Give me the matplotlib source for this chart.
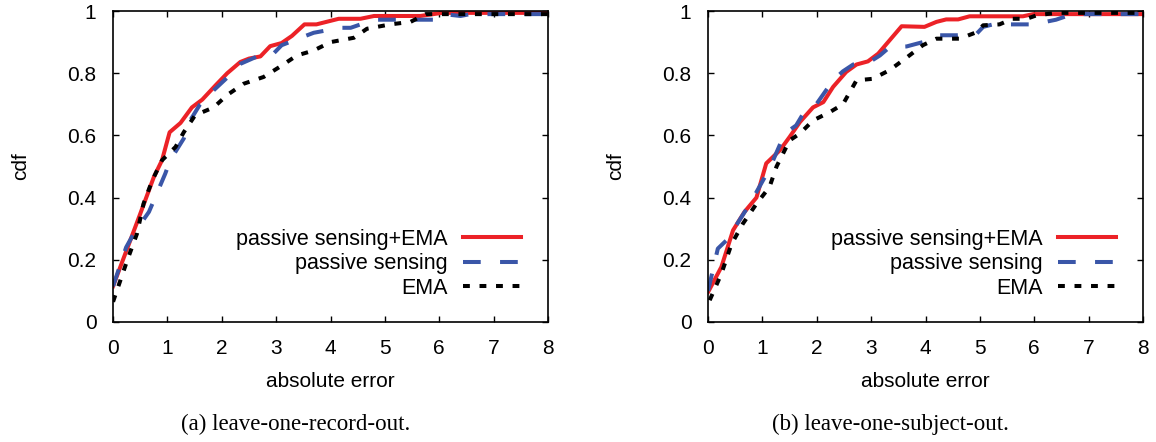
import matplotlib
matplotlib.use('Agg')
import matplotlib.pyplot as plt

# (a) leave-one-record-out
rec_both_x = [0, 0.26, 0.5, 0.75, 0.9, 1.04, 1.24, 1.45, 1.64, 1.88, 2.1, 2.34, 2.5, 2.71, 2.89, 3.1, 3.29, 3.52, 3.74, 4.15, 4.55, 4.8, 5.65, 6.05, 8]
rec_both_y = [0.115, 0.236, 0.348, 0.466, 0.52, 0.61, 0.64, 0.69, 0.715, 0.76, 0.80, 0.836, 0.847, 0.854, 0.887, 0.897, 0.92, 0.957, 0.957, 0.975, 0.975, 0.984, 0.984, 0.994, 0.994]
rec_pas_x = [0, 0.24, 0.38, 0.66, 0.96, 1.05, 1.3, 1.39, 1.6, 1.85, 2.1, 2.34, 2.77, 2.95, 3.1, 3.45, 3.69, 4.18, 4.37, 4.8, 5.9, 6.08, 6.39, 6.57, 8]
rec_pas_y = [0.115, 0.24, 0.284, 0.354, 0.477, 0.52, 0.59, 0.64, 0.70, 0.745, 0.786, 0.83, 0.863, 0.863, 0.89, 0.914, 0.93, 0.946, 0.946, 0.972, 0.972, 0.99, 0.984, 0.99, 0.99]
rec_ema_x = [0, 0.26, 0.44, 0.56, 0.72, 0.9, 1.15, 1.3, 1.51, 1.85, 2.1, 2.4, 2.77, 3.08, 3.38, 3.69, 4.0, 4.43, 4.67, 5.1, 5.47, 5.75, 8]
rec_ema_y = [0.065, 0.198, 0.284, 0.38, 0.455, 0.52, 0.563, 0.61, 0.665, 0.69, 0.73, 0.766, 0.788, 0.822, 0.857, 0.873, 0.90, 0.914, 0.943, 0.957, 0.965, 0.99, 0.99]

# (b) leave-one-subject-out
sub_both_x = [0, 0.245, 0.46, 0.67, 0.89, 1.07, 1.32, 1.5, 1.69, 1.93, 2.12, 2.3, 2.54, 2.73, 2.94, 3.13, 3.56, 3.98, 4.2, 4.38, 4.6, 4.81, 5.79, 5.98, 8]
sub_both_y = [0.096, 0.177, 0.295, 0.354, 0.40, 0.51, 0.552, 0.595, 0.643, 0.69, 0.707, 0.756, 0.804, 0.828, 0.838, 0.863, 0.951, 0.949, 0.965, 0.973, 0.973, 0.983, 0.983, 0.99, 0.99]
sub_pas_x = [0, 0.18, 0.4, 0.55, 0.77, 1.13, 1.41, 1.62, 1.75, 1.99, 2.3, 2.48, 2.67, 2.97, 3.16, 3.34, 3.65, 3.95, 4.2, 4.57, 4.94, 5.06, 5.24, 5.98, 6.4, 6.7, 8]
sub_pas_y = [0.10, 0.236, 0.273, 0.32, 0.38, 0.493, 0.606, 0.632, 0.67, 0.70, 0.777, 0.806, 0.828, 0.836, 0.857, 0.884, 0.886, 0.90, 0.922, 0.922, 0.927, 0.949, 0.957, 0.957, 0.972, 0.99, 0.99]
sub_ema_x = [0.03, 0.245, 0.43, 0.64, 0.89, 1.13, 1.26, 1.5, 1.69, 1.93, 2.24, 2.48, 2.73, 3.03, 3.34, 3.65, 3.95, 4.2, 4.63, 4.94, 5.06, 5.36, 5.6, 5.86, 6.04, 6.4, 8]
sub_ema_y = [0.07, 0.155, 0.25, 0.316, 0.38, 0.434, 0.50, 0.584, 0.606, 0.648, 0.675, 0.70, 0.777, 0.782, 0.81, 0.85, 0.89, 0.911, 0.911, 0.932, 0.954, 0.957, 0.975, 0.975, 0.986, 0.994, 0.994]

labels = ['passive sensing+EMA', 'passive sensing', 'EMA']
captions = ['(a) leave-one-record-out.', '(b) leave-one-subject-out.']
xticks = [0, 1, 2, 3, 4, 5, 6, 7, 8]
yticks = [0, 0.2, 0.4, 0.6, 0.8, 1]
ytick_labels = ['0', '0.2', '0.4', '0.6', '0.8', '1']

plt.rcParams['font.family'] = ['Liberation Sans', 'DejaVu Sans']

fig = plt.figure(figsize=(11.56, 4.42), dpi=100)
ax1 = fig.add_axes([0.0978, 0.2715, 0.3763, 0.7036])
ax2 = fig.add_axes([0.6125, 0.2715, 0.3763, 0.7036])

panels = [
    (ax1, rec_both_x, rec_both_y, rec_pas_x, rec_pas_y, rec_ema_x, rec_ema_y),
    (ax2, sub_both_x, sub_both_y, sub_pas_x, sub_pas_y, sub_ema_x, sub_ema_y),
]

for i, (ax, bx, by, px, py, ex, ey) in enumerate(panels):
    ax.plot(bx, by, color='#ec2227', lw=2.9, label=labels[0])
    ax.plot(px, py, color='#3a56a8', lw=2.9, dashes=(4.4, 4.8), label=labels[1])
    ax.plot(ex, ey, color='black', lw=2.9, dashes=(1.7, 2.4), label=labels[2])

    ax.set_xlim(0, 8)
    ax.set_ylim(0, 1)
    ax.set_xticks(xticks)
    ax.set_yticks(yticks)
    ax.set_yticklabels(ytick_labels)
    ax.tick_params(direction='in', length=4, width=1, top=True, right=True,
                   labelsize=15, pad=12)
    for s in ax.spines.values():
        s.set_linewidth(1.2)
    ax.set_xlabel('absolute error', fontsize=15, labelpad=10)
    ax.set_ylabel('cdf', fontsize=15, labelpad=27)

    ax.legend(loc='lower right', bbox_to_anchor=(0.963, 0.04), frameon=False,
              markerfirst=False, fontsize=15.5, handlelength=2.7,
              labelspacing=0.16, borderpad=0, handletextpad=0.7)

    cx = (ax.get_position().x0 + ax.get_position().x1) / 2 - 35 / 1156
    fig.text(cx, 0.04, captions[i], ha='center', va='center',
             family='Liberation Serif', fontsize=16.5)

fig.savefig('out.png', dpi=100)
